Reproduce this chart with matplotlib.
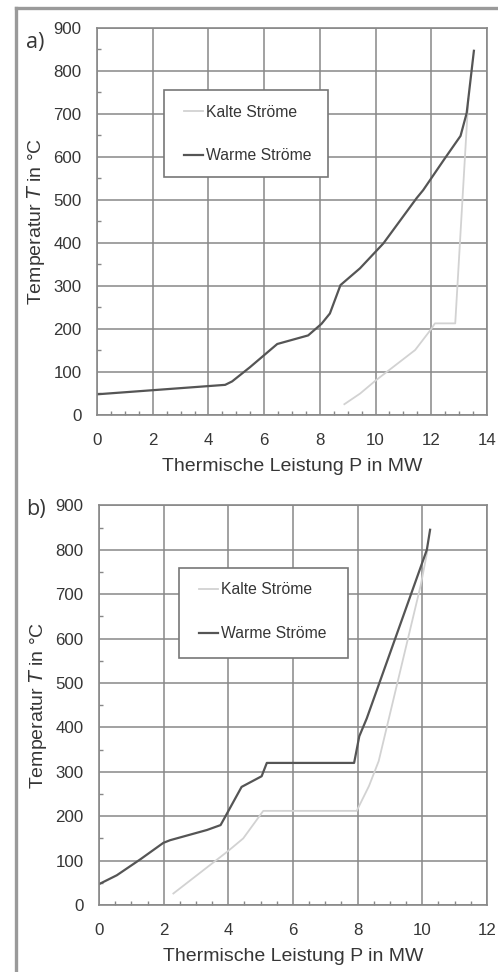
import matplotlib
matplotlib.use('Agg')
import matplotlib.pyplot as plt
from matplotlib.lines import Line2D
from matplotlib.patches import Rectangle
from matplotlib.ticker import MultipleLocator

plt.rcParams['font.family'] = ['Liberation Sans', 'DejaVu Sans']

# a) ---------------------------------------------------------------------------
warm_a_p = [0, 4.6, 4.85, 5.49, 6.47, 7.58, 8.06, 8.36, 8.74, 9.44, 10.28, 11.47, 11.71, 12.49, 13.05, 13.27, 13.53]
warm_a_t = [48, 70, 78, 111, 165, 185, 212, 236, 302, 341, 399, 504, 523, 597, 649, 702, 847]
cold_a_p = [8.88, 9.45, 10.0, 11.42, 12.0, 12.13, 12.86, 13.33]
cold_a_t = [25, 50, 80, 151, 200, 213, 213, 735]

# b) ---------------------------------------------------------------------------
warm_b_p = [0, 0.55, 1.28, 1.99, 2.2, 3.34, 3.76, 3.95, 4.41, 5.03, 5.19, 7.89, 8.05, 8.28, 10.14, 10.24]
warm_b_t = [47, 67, 103, 140, 146, 169, 180, 205, 266, 290, 320, 320, 380, 420, 800, 845]
cold_b_p = [2.3, 4.0, 4.46, 5.08, 7.97, 8.35, 8.65, 9.95, 10.15]
cold_b_t = [26, 122, 150, 212, 212, 268, 324, 720, 795]

xmax = [14, 12]
labels = ['a)', 'b)']
legend_names = ['Kalte Ströme', 'Warme Ströme']

txt_col = '#363636'
grid_col = '#888888'
warm_col = '#555555'
cold_col = '#d2d2d2'

fig = plt.figure(figsize=(4.98, 9.72), dpi=100)
axes = [fig.add_axes([0.1948, 0.5731, 0.7831, 0.3981]),
        fig.add_axes([0.1988, 0.0689, 0.7791, 0.4112])]
data = [(cold_a_p, cold_a_t, warm_a_p, warm_a_t), (cold_b_p, cold_b_t, warm_b_p, warm_b_t)]
# legend box (left, bottom, width, height) in axes fraction
leg_box = [(0.173, 0.614, 0.42, 0.226), (0.206, 0.617, 0.435, 0.227)]
leg_shift = [0.0137, 0.0133]

for i, ax in enumerate(axes):
    cp, ct, wp, wt = data[i]
    ax.plot(cp, ct, color=cold_col, lw=1.3, label=legend_names[0])
    ax.plot(wp, wt, color=warm_col, lw=1.6, label=legend_names[1])
    ax.set_xlim(0, xmax[i])
    ax.set_ylim(0, 900)
    ax.xaxis.set_major_locator(MultipleLocator(2))
    ax.xaxis.set_minor_locator(MultipleLocator(0.5))
    ax.yaxis.set_major_locator(MultipleLocator(100))
    ax.yaxis.set_minor_locator(MultipleLocator(50))
    ax.grid(True, which='major', color=grid_col, lw=1.1)
    ax.set_axisbelow(True)
    ax.tick_params(which='major', length=0, labelsize=12.2, labelcolor=txt_col, pad=11)
    ax.tick_params(which='minor', direction='in', length=3, width=1, color=grid_col)
    ax.tick_params(axis='x', which='major', pad=13)
    for s in ax.spines.values():
        s.set_color(grid_col)
        s.set_linewidth(1.2)
    ax.set_xlabel('Thermische Leistung P in MW', fontsize=14, color=txt_col, labelpad=7)
    ax.set_ylabel('Temperatur $\\it{T}$ in °C', fontsize=14, color=txt_col, labelpad=5)

    bx, by, bw, bh = leg_box[i]
    ax.add_patch(Rectangle((bx, by), bw, bh, transform=ax.transAxes, facecolor='white',
                           edgecolor='#777777', lw=1.2, zorder=4))
    leg = ax.legend(loc='upper left', bbox_to_anchor=(bx, by + bh + leg_shift[i]), fontsize=11.3,
                    handlelength=1.2, handletextpad=0.2, labelspacing=1.83, borderpad=1.27,
                    borderaxespad=0, frameon=False, labelcolor=txt_col)
    leg.set_zorder(5)

fig.text(0.052, 0.956, labels[0], fontsize=15.5, color=txt_col, family='Open Sans', va='center')
fig.text(0.052, 0.4755, labels[1], fontsize=15.5, color=txt_col, family='Open Sans', va='center')

# grauer Rahmen oben und links
fig.add_artist(Line2D([0.032, 1.0], [0.9918, 0.9918], color='#9a9a9a', lw=2.4, transform=fig.transFigure))
fig.add_artist(Line2D([0.032, 0.032], [0.0, 0.9918], color='#9a9a9a', lw=2.4, transform=fig.transFigure))

fig.savefig('out.png', dpi=100)
